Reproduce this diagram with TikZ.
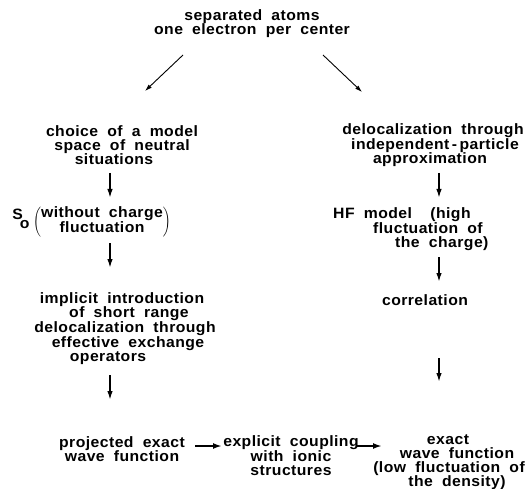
\documentclass[tikz,border=0pt]{standalone}
\usepackage{fontspec}
\newfontfamily\lab{Liberation Sans}[FakeStretch=1.05,LetterSpace=3,WordSpace=1.9]
\usetikzlibrary{arrows.meta,calc}
\tikzset{
  txt/.style={font=\lab\bfseries\fontsize{15}{14}\selectfont, align=center, inner sep=0pt},
  varr/.style={-{Latex[length=9pt,width=5.5pt]}, line width=1.6pt},
  harr/.style={-{Latex[length=9pt,width=6pt]}, line width=1.8pt},
  darr/.style={-{Latex[length=7pt,width=4.5pt]}, line width=0.9pt},
}
\begin{document}
\begin{tikzpicture}[x=1pt,y=-1pt]
\useasboundingbox (0,0) rectangle (527,489);
% nodes
\node[txt] (top) at (252,24) {separated atoms\\one electron per center};
\node[txt] (choice) at (122,145) {choice of a model\\space of neutral\\\hspace*{-16pt}situations};
\node[txt] (s0) at (21,219) {S\kern-3pt\raisebox{-9pt}{o}};
\node[txt] (nocharge) at (102,222) {$\left(\mbox{\begin{tabular}{@{}c@{}}without charge\\fluctuation\end{tabular}}\right)$};
\node[txt] (implicit) at (125,329) {\hspace*{-6pt}implicit introduction\\\hspace*{8pt}of short range\\delocalization through\\\hspace*{6pt}effective exchange\\\hspace*{-34pt}operators};
\node[txt] (projected) at (122,449) {projected exact\\wave function};
\node[txt] (explicit) at (291,456) {explicit coupling\\with ionic\\structures};
\node[txt] (exact) at (451,462) {\hspace*{-6pt}exact\\\hspace*{12pt}wave function\\\hspace*{-4pt}(low fluctuation of\\\hspace*{12pt}the density)};
\node[txt] (deloc) at (433,145) {delocalization through\\\hspace*{4pt}independent\,-\,particle\\\hspace*{-6pt}approximation};
\node[txt, align=left, anchor=west] (hf) at (333,229) {HF model\ \ (high\\\hspace*{40pt}fluctuation of\\\hspace*{62pt}the charge)};
\node[txt] (corr) at (425,300) {correlation};
% diagonal arrows
\draw[darr] ($(top.center)+(-69,31)$) -- ($(choice.center)+(23,-54)$);
\draw[darr] ($(top.center)+(71,31)$) -- ($(deloc.center)+(-71,-53)$);
% left column
\draw[varr] ($(choice.center)+(-12,28)$) -- ($(nocharge.center)+(8,-24)$);
\draw[varr] ($(nocharge.center)+(8,21)$) -- ($(implicit.center)+(-15,-61)$);
\draw[varr] ($(implicit.center)+(-15,46)$) -- ($(projected.center)+(-12,-49)$);
% right column
\draw[varr] ($(deloc.center)+(6,28)$) -- ($(hf.west)+(106,-31)$);
\draw[varr] ($(hf.west)+(106,28)$) -- ($(corr.center)+(14,-18)$);
\draw[varr] ($(corr.center)+(14,58)$) -- ($(exact.center)+(-12,-80)$);
% bottom row
\draw[harr] ($(projected.center)+(73,-3)$) -- ($(explicit.center)+(-69,-10)$);
\draw[harr] ($(explicit.center)+(66,-10)$) -- ($(exact.center)+(-69,-16)$);
\end{tikzpicture}
\end{document}
